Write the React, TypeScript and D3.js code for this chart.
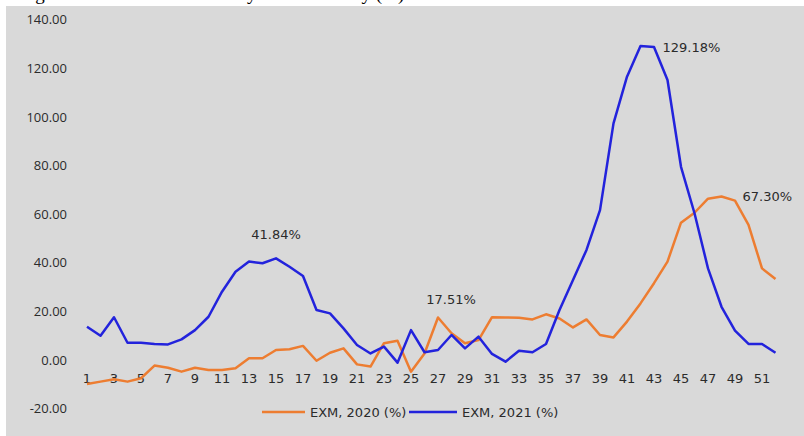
import React from "react";
import * as d3 from "d3";

// Week numbers 1..52
const weeks: number[] = d3.range(1, 53);

// Excess mortality by week, 2020 (%)
const exm2020: number[] = [
  -9.9, -8.9, -7.9, -8.9, -7.5, -2.3, -3.2, -4.8, -3.2, -4.1,
  -4.1, -3.4, 0.7, 0.7, 4.1, 4.4, 5.8, -0.3, 3.0, 4.8,
  -1.8, -2.7, 6.9, 7.9, -4.8, 2.7, 17.51, 11.0, 6.9, 8.2,
  17.6, 17.5, 17.4, 16.7, 18.8, 17.1, 13.4, 16.7, 10.3, 9.3,
  15.8, 23.3, 31.6, 40.5, 56.5, 60.6, 66.4, 67.3, 65.6, 55.6,
  37.7, 33.3,
];

// Excess mortality by week, 2021 (%)
const exm2021: number[] = [
  13.7, 10.0, 17.6, 7.1, 7.1, 6.6, 6.4, 8.5, 12.3, 17.8,
  28.1, 36.3, 40.5, 39.8, 41.84, 38.4, 34.6, 20.6, 19.2, 13.0,
  6.2, 2.7, 5.5, -1.1, 12.3, 3.2, 4.1, 10.3, 4.8, 9.6,
  2.5, -0.7, 3.8, 3.2, 6.6, 20.6, 32.9, 45.3, 61.7, 97.4,
  116.6, 129.18, 128.8, 115.2, 79.5, 60.4, 37.7, 21.9, 12.1, 6.6,
  6.6, 3.0,
];

const yTicks: number[] = [-20, 0, 20, 40, 60, 80, 100, 120, 140];
const xTicks: number[] = weeks.filter((w) => w % 2 === 1);

const seriesNames: string[] = ["EXM, 2020 (%)", "EXM, 2021 (%)"];
const seriesColors: string[] = ["#ED7D31", "#2323DC"];

// Peak annotations: [series index, week, text, dx, dy, anchor]
const annotations: { s: number; week: number; text: string; dx: number; dy: number; anchor: string }[] = [
  { s: 1, week: 15, text: "41.84%", dx: 0, dy: -24, anchor: "middle" },
  { s: 0, week: 27, text: "17.51%", dx: 13, dy: -18, anchor: "middle" },
  { s: 1, week: 42, text: "129.18%", dx: 22, dy: 1, anchor: "start" },
  { s: 0, week: 48, text: "67.30%", dx: 21, dy: 0, anchor: "start" },
];

const W = 804;
const H = 436;

export default function App() {
  const x = d3.scaleLinear().domain([1, 52]).range([87, 775.5]);
  const y = d3.scaleLinear().domain([-20, 140]).range([408.6, 19.8]);

  const line = d3
    .line<number>()
    .x((_, i) => x(weeks[i]))
    .y((d) => y(d));

  const series = [exm2020, exm2021];
  const textColor = "#2b2b2b";

  // legend entries: line start, line end, text start
  const legendPos = [
    { x1: 262, x2: 305, tx: 310 },
    { x1: 409, x2: 457, tx: 462 },
  ];

  return (
    <>
      <style>{"body{margin:0}"}</style>
      <svg width={W} height={H} style={{ display: "block", background: "#ffffff" }}>
        <text
          x={19.4}
          y={0}
          fontFamily="'Liberation Serif', 'Times New Roman', serif"
          fontSize={19}
          fill="#000"
        >
          Figure 1: The Excess Mortality in the Country (%)
        </text>
        <rect x={6} y={6} width={W - 6} height={H - 6} fill="#d9d9d9" />

        {/* y axis labels */}
        {yTicks.map((t) => (
          <text
            key={t}
            x={67}
            y={y(t)}
            dy="0.35em"
            textAnchor="end"
            fontFamily="'Open Sans', sans-serif"
            fontSize={13}
            fill={textColor}
          >
            {t.toFixed(2)}
          </text>
        ))}

        {/* x axis labels */}
        {xTicks.map((t) => (
          <text
            key={t}
            x={x(t)}
            y={378}
            dy="0.35em"
            textAnchor="middle"
            fontFamily="'DejaVu Sans', sans-serif"
            fontSize={13}
            fill={textColor}
          >
            {t}
          </text>
        ))}

        {/* lines */}
        {series.map((s, i) => (
          <path
            key={i}
            d={line(s) || ""}
            fill="none"
            stroke={seriesColors[i]}
            strokeWidth={2.5}
            strokeLinejoin="round"
          />
        ))}

        {/* annotations */}
        {annotations.map((a) => (
          <text
            key={a.text}
            x={x(a.week) + a.dx}
            y={y(series[a.s][a.week - 1]) + a.dy}
            dy="0.35em"
            textAnchor={a.anchor}
            fontFamily="'DejaVu Sans', sans-serif"
            fontSize={13}
            fill={textColor}
          >
            {a.text}
          </text>
        ))}

        {/* legend */}
        {seriesNames.map((n, i) => {
          const p = legendPos[i];
          return (
            <g key={n}>
              <line x1={p.x1} x2={p.x2} y1={412} y2={412} stroke={seriesColors[i]} strokeWidth={2.5} />
              <text
                x={p.tx}
                y={412}
                dy="0.35em"
                fontFamily="'DejaVu Sans', sans-serif"
                fontSize={13}
                fill={textColor}
              >
                {n}
              </text>
            </g>
          );
        })}
      </svg>
    </>
  );
}
